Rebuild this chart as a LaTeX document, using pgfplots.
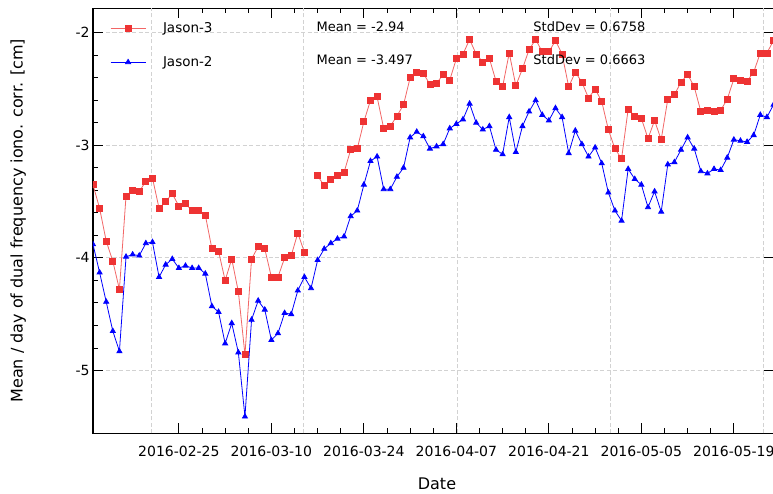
\documentclass[border=0pt]{standalone}
\usepackage{pgfplots}
\pgfplotsset{compat=1.18}
\usepackage{fontspec}
\setmainfont{DejaVu Sans}
\definecolor{jred}{RGB}{238,51,51}
\definecolor{jblue}{RGB}{0,0,255}
\definecolor{gridgray}{RGB}{210,210,210}

\pgfplotstableread{
d v
0 -3.35
1 -3.56
2 -3.85
3 -4.03
4 -4.28
5 -3.45
6 -3.40
7 -3.41
8 -3.32
9 -3.29
10 -3.56
11 -3.50
12 -3.43
13 -3.54
14 -3.52
15 -3.58
16 -3.58
17 -3.62
18 -3.92
19 -3.94
20 -4.20
21 -4.01
22 -4.30
23 -4.86
24 -4.01
25 -3.90
26 -3.92
27 -4.17
28 -4.17
29 -4.00
30 -3.98
31 -3.78
32 -3.95
33 nan
34 -3.27
35 -3.36
36 -3.30
37 -3.27
38 -3.24
39 -3.04
40 -3.03
41 -2.79
42 -2.60
43 -2.57
44 -2.85
45 -2.83
46 -2.74
47 -2.64
48 -2.40
49 -2.35
50 -2.36
51 -2.46
52 -2.45
53 -2.37
54 -2.42
55 -2.23
56 -2.19
57 -2.06
58 -2.19
59 -2.26
60 -2.23
61 -2.43
62 -2.48
63 -2.18
64 -2.47
65 -2.32
66 -2.15
67 -2.06
68 -2.17
69 -2.17
70 -2.07
71 -2.19
72 -2.48
73 -2.35
74 -2.44
75 -2.58
76 -2.50
77 -2.61
78 -2.86
79 -3.03
80 -3.12
81 -2.68
82 -2.74
83 -2.76
84 -2.94
85 -2.78
86 -2.95
87 -2.59
88 -2.55
89 -2.44
90 -2.37
91 -2.48
92 -2.70
93 -2.69
94 -2.70
95 -2.69
96 -2.59
97 -2.41
98 -2.42
99 -2.43
100 -2.35
101 -2.18
102 -2.18
103 -2.07
}\jasonthree

\pgfplotstableread{
d v
0 -3.88
1 -4.13
2 -4.39
3 -4.65
4 -4.83
5 -3.99
6 -3.97
7 -3.98
8 -3.87
9 -3.86
10 -4.17
11 -4.06
12 -4.01
13 -4.09
14 -4.07
15 -4.09
16 -4.09
17 -4.14
18 -4.43
19 -4.48
20 -4.76
21 -4.58
22 -4.84
23 -5.41
24 -4.55
25 -4.38
26 -4.46
27 -4.73
28 -4.67
29 -4.49
30 -4.50
31 -4.29
32 -4.17
33 -4.27
34 -4.02
35 -3.92
36 -3.87
37 -3.83
38 -3.81
39 -3.63
40 -3.58
41 -3.35
42 -3.14
43 -3.10
44 -3.39
45 -3.39
46 -3.28
47 -3.20
48 -2.93
49 -2.88
50 -2.92
51 -3.03
52 -3.01
53 -2.99
54 -2.85
55 -2.81
56 -2.77
57 -2.63
58 -2.80
59 -2.86
60 -2.83
61 -3.04
62 -3.08
63 -2.75
64 -3.06
65 -2.83
66 -2.70
67 -2.60
68 -2.73
69 -2.78
70 -2.67
71 -2.75
72 -3.07
73 -2.87
74 -2.99
75 -3.10
76 -3.02
77 -3.16
78 -3.42
79 -3.58
80 -3.67
81 -3.21
82 -3.30
83 -3.35
84 -3.55
85 -3.41
86 -3.59
87 -3.17
88 -3.15
89 -3.04
90 -2.93
91 -3.03
92 -3.23
93 -3.25
94 -3.21
95 -3.22
96 -3.11
97 -2.95
98 -2.96
99 -2.97
100 -2.91
101 -2.73
102 -2.75
103 -2.64
}\jasontwo

\begin{document}
\begin{tikzpicture}[x=1pt,y=1pt]
\begin{axis}[
  at={(0,0)}, anchor=south west,
  width=680.5pt, height=425pt, scale only axis,
  xmin=0, xmax=103, ymin=-5.558, ymax=-1.783,
  clip marker paths=true,
  unbounded coords=jump,
  axis line style={line width=1.2pt},
  xtick={13,27,41,55,69,83,97},
  xticklabels={2016-02-25,2016-03-10,2016-03-24,2016-04-07,2016-04-21,2016-05-05,2016-05-19},
  minor x tick num=3,
  xtick pos=both, ytick pos=left,
  tick align=inside,
  major tick length=10pt, minor tick length=5pt,
  tick style={black, line width=0.9pt},
  ytick={-5,-4,-3,-2}, yticklabels={-5,-4,-3,-2},
  minor y tick num=4,
  ymajorgrids=true,
  major grid style={gridgray, dash pattern=on 4pt off 2.5pt, line width=0.9pt},
  extra x ticks={8.81,31.9,55.1,78.3,101.5},
  extra x tick labels={},
  extra x tick style={xmajorgrids=true, major tick length=0pt},
  /pgf/number format/assume math mode=true,
  xticklabel style={font=\fontsize{14}{16}\selectfont, anchor=base, yshift=-22.7pt},
  yticklabel style={font=\fontsize{14}{16}\selectfont},
  xlabel={Date},
  xlabel style={at={(axis description cs:0.5055,-0.119)}, anchor=center, font=\fontsize{16}{18}\selectfont},
  ylabel={Mean / day of dual frequency iono. corr. [cm]},
  ylabel style={at={(axis description cs:-0.110,0.5)}, anchor=center, font=\fontsize{16}{18}\selectfont},
  legend style={draw=none, fill=none, at={(axis description cs:0.025,0.966)}, anchor=north west,
    inner sep=0pt, font=\fontsize{13.5}{16}\selectfont, row sep=22pt, column sep=17pt,
    nodes={inner sep=0pt}, cells={anchor=west}},
  legend image code/.code={\draw[mark repeat=2,mark phase=2,#1] plot coordinates {(0pt,0pt) (17.5pt,0pt) (35pt,0pt)};},
]
\addplot[color=jred!75, line width=0.8pt, mark=square*, mark size=3pt, mark options={jred, fill=jred, solid}] table[x=d,y=v] {\jasonthree};
\addlegendentry{Jason-3}
\addplot[color=jblue, line width=0.8pt, mark=triangle*, mark size=2.9pt, mark options={jblue, fill=jblue, solid}] table[x=d,y=v] {\jasontwo};
\addlegendentry{Jason-2}
\node[anchor=west, font=\fontsize{13}{15}\selectfont] at (rel axis cs:0.3233,0.956) {Mean = -2.94};
\node[anchor=west, font=\fontsize{13}{15}\selectfont] at (rel axis cs:0.3233,0.878) {Mean = -3.497};
\node[anchor=west, font=\fontsize{13}{15}\selectfont] at (rel axis cs:0.642,0.956) {StdDev = 0.6758};
\node[anchor=west, font=\fontsize{13}{15}\selectfont] at (rel axis cs:0.642,0.878) {StdDev = 0.6663};
\end{axis}
\begin{axis}[
  at={(0,0)}, anchor=south west,
  width=680.5pt, height=425pt, scale only axis,
  xmin=0, xmax=103, ymin=-5.558, ymax=-1.783,
  hide x axis, axis y line*=right,
  y axis line style={line width=1.2pt},
  ytick={-5,-4,-3,-2}, yticklabels={},
  minor y tick num=0,
  tick align=inside, major tick length=10pt,
  tick style={black, line width=0.9pt},
]
\end{axis}
\pgfresetboundingbox
\useasboundingbox (-93,-59.7) rectangle (680,433.3);
\end{tikzpicture}
\end{document}
